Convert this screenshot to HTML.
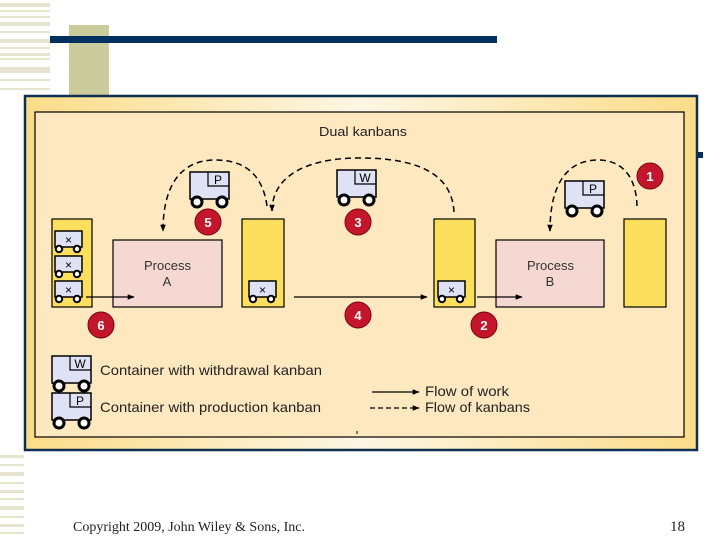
<!DOCTYPE html>
<html><head><meta charset="utf-8"><style>
html,body{margin:0;padding:0;background:#fff;}
body{width:720px;height:540px;overflow:hidden;position:relative;font-family:"Liberation Sans",sans-serif;}
</style></head><body>
<svg width="720" height="540" viewBox="0 0 720 540" xmlns="http://www.w3.org/2000/svg" style="position:absolute;left:0;top:0">
<defs>
<linearGradient id="fr" x1="0" x2="1" y1="0" y2="0">
<stop offset="0" stop-color="#fbdc88"/><stop offset="0.5" stop-color="#fdf6e4"/><stop offset="1" stop-color="#fbdc88"/>
</linearGradient>
<marker id="ah" viewBox="0 0 10 10" refX="9" refY="5" markerWidth="10" markerHeight="7" orient="auto" markerUnits="userSpaceOnUse"><path d="M0,1 L10,5 L0,9 z" fill="#000"/></marker>
<g id="cartP"><rect x="0" y="0" width="39" height="27" fill="#dfe2f5" stroke="#000" stroke-width="1.5"/><path d="M18,0 V14 H39" fill="none" stroke="#000" stroke-width="1.2"/><text x="28" y="12" font-size="12" text-anchor="middle" font-family="Liberation Sans">P</text><circle cx="7" cy="30" r="5" fill="#fff" stroke="#000" stroke-width="3"/><circle cx="32" cy="30" r="5" fill="#fff" stroke="#000" stroke-width="3"/></g>
<g id="cartW"><rect x="0" y="0" width="39" height="27" fill="#dfe2f5" stroke="#000" stroke-width="1.5"/><path d="M18,0 V14 H39" fill="none" stroke="#000" stroke-width="1.2"/><text x="28" y="12" font-size="12" text-anchor="middle" font-family="Liberation Sans">W</text><circle cx="7" cy="30" r="5" fill="#fff" stroke="#000" stroke-width="3"/><circle cx="32" cy="30" r="5" fill="#fff" stroke="#000" stroke-width="3"/></g>
<g id="cx"><rect x="0" y="0" width="27" height="16" fill="#dfe2f5" stroke="#000" stroke-width="1.5"/><text x="13.5" y="13" font-size="12" text-anchor="middle">×</text><circle cx="4" cy="18" r="3.2" fill="#fff" stroke="#000" stroke-width="2"/><circle cx="22" cy="18" r="3.2" fill="#fff" stroke="#000" stroke-width="2"/></g>
</defs>
<g fill="#e6e4d0">
<rect x="0" y="3" width="50" height="4"/><rect x="0" y="10" width="50" height="2"/><rect x="0" y="16" width="50" height="2"/><rect x="0" y="22" width="50" height="4"/><rect x="0" y="31" width="50" height="2"/><rect x="0" y="39" width="50" height="4"/><rect x="0" y="47" width="50" height="2"/><rect x="0" y="53" width="50" height="3"/><rect x="0" y="58" width="50" height="2"/><rect x="0" y="67" width="50" height="6"/><rect x="0" y="79" width="50" height="2"/><rect x="0" y="88" width="50" height="2"/>
<rect x="0" y="455" width="24" height="3"/><rect x="0" y="464" width="24" height="2"/><rect x="0" y="472" width="24" height="4"/><rect x="0" y="482" width="24" height="2"/><rect x="0" y="490" width="24" height="3"/><rect x="0" y="498" width="24" height="2"/><rect x="0" y="506" width="24" height="4"/><rect x="0" y="516" width="24" height="2"/><rect x="0" y="524" width="24" height="3"/><rect x="0" y="532" width="24" height="2"/>
</g>
<rect x="69" y="25" width="40" height="72" fill="#cccb9b"/>
<rect x="50" y="36" width="447" height="7" fill="#003060"/>
<rect x="697" y="152" width="6" height="6" fill="#003060"/>
<rect x="25" y="96" width="672" height="354" fill="url(#fr)" stroke="#0d3050" stroke-width="2.5"/>
<rect x="35" y="112" width="649" height="325" fill="#fde8bf" stroke="#000" stroke-width="1.2"/>
<text x="319" y="136" font-size="13" fill="#222" textLength="88" lengthAdjust="spacingAndGlyphs">Dual kanbans</text>
<g fill="#fddf5e" stroke="#000" stroke-width="1.2">
<rect x="52" y="219" width="40" height="88"/><rect x="242" y="219" width="42" height="88"/><rect x="434" y="219" width="41" height="88"/><rect x="624" y="219" width="42" height="88"/>
</g>
<g fill="#f5d8d2" stroke="#000" stroke-width="1.2">
<rect x="113" y="240" width="109" height="67"/><rect x="496" y="240" width="108" height="67"/>
</g>
<g font-size="13" fill="#333">
<text x="144" y="270" textLength="47" lengthAdjust="spacingAndGlyphs">Process</text><text x="167" y="286" text-anchor="middle">A</text>
<text x="527" y="270" textLength="47" lengthAdjust="spacingAndGlyphs">Process</text><text x="550" y="286" text-anchor="middle">B</text>
</g>
<use href="#cx" x="55" y="231"/><use href="#cx" x="55" y="256"/><use href="#cx" x="55" y="281"/>
<use href="#cx" x="249" y="281"/><use href="#cx" x="438" y="281"/>
<use href="#cartP" x="190" y="172"/><use href="#cartW" x="337" y="170"/><use href="#cartP" x="565" y="181"/>
<g stroke="#000" stroke-width="1.2" marker-end="url(#ah)">
<line x1="86" y1="297" x2="134" y2="297"/><line x1="294" y1="297" x2="427" y2="297"/><line x1="477" y1="297" x2="522" y2="297"/>
</g>
<g fill="none" stroke="#000" stroke-width="1.5" stroke-dasharray="6,4" marker-end="url(#ah)">
<path d="M267,206 C262,170 240,160 215,160 C185,160 163,180 163,231"/>
<path d="M454,212 C452,175 420,158 360,158 C300,158 272,180 272,211"/>
<path d="M637,206 C636,172 618,160 598,160 C570,160 550,180 550,231"/>
</g>
<g fill="#c4162a" stroke="#7a0010" stroke-width="1">
<circle cx="208" cy="222" r="13"/><circle cx="358" cy="222" r="13"/><circle cx="650" cy="176" r="13"/>
<circle cx="101" cy="325" r="13"/><circle cx="358" cy="315" r="13"/><circle cx="484" cy="325" r="13"/>
</g>
<g fill="#fff" font-size="13" font-weight="bold" text-anchor="middle">
<text x="208" y="227">5</text><text x="358" y="227">3</text><text x="650" y="181">1</text>
<text x="101" y="330">6</text><text x="358" y="320">4</text><text x="484" y="330">2</text>
</g>
<use href="#cartW" x="52" y="356"/><use href="#cartP" x="52" y="393"/>
<g font-size="14" fill="#222">
<text x="100" y="375" textLength="222" lengthAdjust="spacingAndGlyphs">Container with withdrawal kanban</text>
<text x="100" y="412" textLength="221" lengthAdjust="spacingAndGlyphs">Container with production kanban</text>
<text x="425" y="396" textLength="84" lengthAdjust="spacingAndGlyphs">Flow of work</text>
<text x="425" y="412" textLength="105" lengthAdjust="spacingAndGlyphs">Flow of kanbans</text>
</g>
<line x1="372" y1="392" x2="419" y2="392" stroke="#000" stroke-width="1.2" marker-end="url(#ah)"/>
<line x1="370" y1="408" x2="419" y2="408" stroke="#000" stroke-width="1.2" stroke-dasharray="5,3" marker-end="url(#ah)"/>
<line x1="357" y1="431" x2="357" y2="434" stroke="#000" stroke-width="1"/>
<text x="73" y="531" font-size="14" font-family="Liberation Serif" fill="#222" textLength="232" lengthAdjust="spacingAndGlyphs">Copyright 2009, John Wiley &amp; Sons, Inc.</text>
<text x="685" y="531" font-size="15" font-family="Liberation Serif" fill="#222" text-anchor="end">18</text>
</svg>
</body></html>
